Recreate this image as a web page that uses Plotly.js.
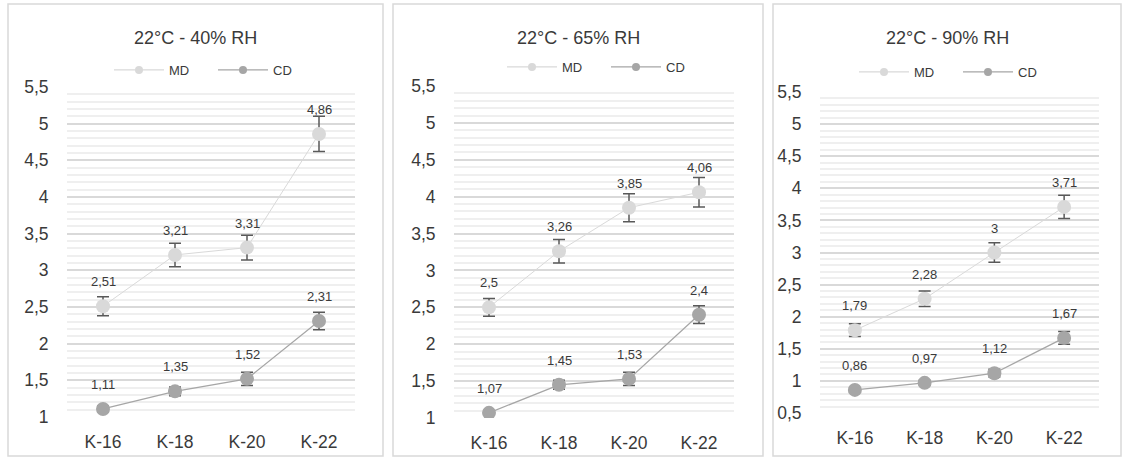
<!DOCTYPE html>
<html><head><meta charset="utf-8">
<script src="https://cdn.plot.ly/plotly-3.0.1.min.js"></script>
<style>html,body{margin:0;padding:0;background:#fff}#chart{width:1124px;height:459px}</style>
</head><body><div id="chart"></div>
<script>
// ---- data ----
const categories = ['K-16', 'K-18', 'K-20', 'K-22'];
const panelTitles = ['22°C - 40% RH', '22°C - 65% RH', '22°C - 90% RH'];
const seriesNames = ['MD', 'CD'];

const md40 = [2.51, 3.21, 3.31, 4.86];
const mdErr40 = [0.13, 0.16, 0.17, 0.24];
const cd40 = [1.11, 1.35, 1.52, 2.31];
const cdErr40 = [0.04, 0.06, 0.09, 0.12];

const md65 = [2.5, 3.26, 3.85, 4.06];
const mdErr65 = [0.12, 0.16, 0.19, 0.20];
const cd65 = [1.07, 1.45, 1.53, 2.4];
const cdErr65 = [0.03, 0.06, 0.09, 0.12];

const md90 = [1.79, 2.28, 3, 3.71];
const mdErr90 = [0.10, 0.12, 0.15, 0.18];
const cd90 = [0.86, 0.97, 1.12, 1.67];
const cdErr90 = [0.03, 0.04, 0.06, 0.10];

const yRanges = [[1, 5.5], [1, 5.5], [0.5, 5.5]];

// ---- layout geometry (pixels) ----
const W = 1124, H = 459;
const px = x => x / W, py = y => 1 - y / H;
const panels = [
  {md: md40, mdErr: mdErr40, cd: cd40, cdErr: cdErr40, box: [8, 4, 383, 456], plot: [67, 87, 355, 417], titleX: 195.5, legX: 109, legY: 70},
  {md: md65, mdErr: mdErr65, cd: cd65, cdErr: cdErr65, box: [393, 4, 763, 456], plot: [454, 86, 734, 418], titleX: 578, legX: 502, legY: 67},
  {md: md90, mdErr: mdErr90, cd: cd90, cdErr: cdErr90, box: [773, 4, 1121, 456], plot: [820, 92, 1099, 413], titleX: 948, legX: 854, legY: 72}
];

const FONT = 'Arial, "Liberation Sans", sans-serif';
const TXT = '#3a3a3a';
const MD_COLOR = '#d9d9d9', CD_COLOR = '#a6a6a6', ERR_COLOR = '#595959';
const fmt = v => String(v).replace('.', ',');

const data = [];
const layout = {
  width: W, height: H,
  margin: {l: 0, r: 0, t: 0, b: 0},
  paper_bgcolor: '#ffffff', plot_bgcolor: '#ffffff',
  font: {family: FONT, color: TXT},
  separators: ', ',
  shapes: [], annotations: []
};

panels.forEach((p, i) => {
  const n = i === 0 ? '' : String(i + 1);
  const xa = 'x' + n, ya = 'y' + n, lg = 'legend' + n;
  const series = [
    {name: seriesNames[0], y: p.md, err: p.mdErr, color: MD_COLOR, lw: 1},
    {name: seriesNames[1], y: p.cd, err: p.cdErr, color: CD_COLOR, lw: 1.25}
  ];
  series.forEach(s => {
    data.push({
      type: 'scatter', mode: 'lines+markers', x: categories, y: s.y,
      xaxis: xa, yaxis: ya, showlegend: false, name: s.name,
      line: {color: s.color, width: s.lw},
      marker: {color: s.color, size: 14},
      error_y: {type: 'data', array: s.err, visible: true, color: ERR_COLOR, thickness: 1.5, width: 6},
      hoverinfo: 'skip'
    });
    // legend-only entry (no drawn point)
    data.push({
      type: 'scatter', mode: 'lines+markers', x: [null], y: [null],
      xaxis: xa, yaxis: ya, showlegend: true, legend: lg, name: s.name,
      line: {color: s.color, width: 1.25},
      marker: {color: s.color, size: 8}, hoverinfo: 'skip'
    });
    s.y.forEach((v, k) => {
      layout.annotations.push({
        xref: xa, yref: ya, x: categories[k], y: v, yshift: 24.5,
        text: fmt(v), showarrow: false,
        font: {size: 13, color: TXT, family: FONT}
      });
    });
  });

  layout['xaxis' + n] = {
    domain: [px(p.plot[0]), px(p.plot[2])], anchor: ya,
    type: 'category', range: [-0.5, 3.5],
    showgrid: false, zeroline: false, showline: false,
    ticks: 'outside', ticklen: 9, tickcolor: 'rgba(0,0,0,0)',
    tickfont: {size: 17.5, color: TXT, family: FONT}, fixedrange: true
  };
  layout['yaxis' + n] = {
    domain: [py(p.plot[3]), py(p.plot[1])], anchor: xa,
    range: yRanges[i], dtick: 0.5, tick0: 0,
    showgrid: true, gridcolor: '#d9d9d9', gridwidth: 1.5,
    minor: {dtick: 0.1, tick0: 0, showgrid: true, gridcolor: '#efefef', gridwidth: 1.5},
    zeroline: false, showline: false,
    ticks: 'outside', ticklen: 14, tickcolor: 'rgba(0,0,0,0)',
    tickfont: {size: 17.5, color: TXT, family: FONT}, fixedrange: true
  };
  layout[lg] = {
    orientation: 'h', x: px(p.legX), xanchor: 'left', y: py(p.legY), yanchor: 'middle',
    xref: 'paper', yref: 'paper',
    font: {size: 13, color: TXT, family: FONT}, itemwidth: 50,
    entrywidth: 39, entrywidthmode: 'pixels',
    bgcolor: 'rgba(0,0,0,0)', borderwidth: 0, itemclick: false, itemdoubleclick: false
  };
  layout.shapes.push({
    type: 'rect', xref: 'paper', yref: 'paper',
    x0: px(p.box[0]), x1: px(p.box[2]), y0: py(p.box[3]), y1: py(p.box[1]),
    line: {color: '#d9d9d9', width: 1.5}, fillcolor: 'rgba(0,0,0,0)', layer: 'below'
  });
  layout.annotations.push({
    xref: 'paper', yref: 'paper', x: px(p.titleX), y: py(38), xanchor: 'center', yanchor: 'middle',
    text: panelTitles[i], showarrow: false, font: {size: 18, color: TXT, family: FONT}
  });
});

Plotly.newPlot('chart', data, layout, {displayModeBar: false, responsive: false});
</script></body></html>
